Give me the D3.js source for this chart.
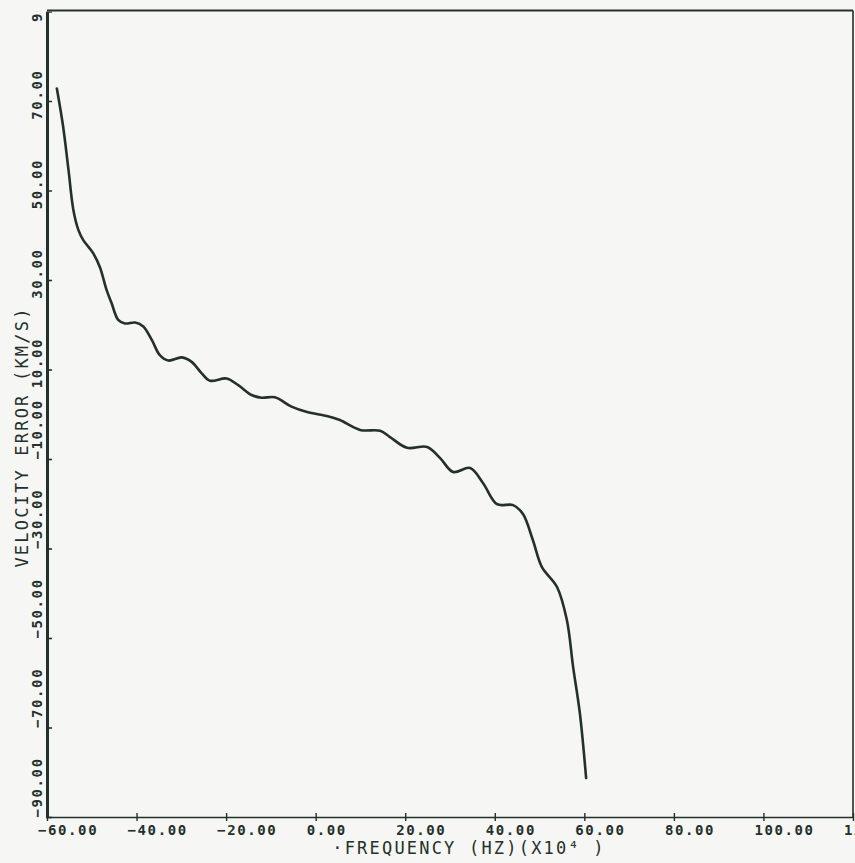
<!DOCTYPE html>
<html>
<head>
<meta charset="utf-8">
<script src="https://cdn.jsdelivr.net/npm/d3@7"></script>
<style>
  html, body { margin: 0; padding: 0; background: #f6f6f4; }
  svg { display: block; }
</style>
</head>
<body>
<svg id="chart" width="855" height="863"></svg>
<script>
// Velocity error versus Doppler frequency offset
const frequency = [
  -57.8, -56.4, -55.2, -54.1, -53.0, -51.9, -49.7, -48.2, -46.7, -45.6,
  -44.1, -42.6, -40.3, -38.5, -36.6, -34.8, -32.9, -29.9, -27.7, -25.5,
  -23.6, -19.9, -17.3, -14.3, -12.1, -9.1, -5.4, -1.9, 2.5, 5.4,
  9.9, 14.4, 16.6, 20.4, 24.9, 27.8, 30.7, 34.5, 37.4, 40.5,
  44.1, 46.3, 48.5, 50.5, 53.9, 56.1, 57.5, 59.0, 60.4
];
const velocityError = [
  72.8, 64.3, 54.6, 45.6, 41.2, 38.9, 36.0, 32.9, 27.8, 24.9,
  21.1, 20.3, 20.5, 19.6, 16.6, 13.2, 12.0, 12.7, 11.7, 9.2,
  7.5, 8.0, 6.5, 4.3, 3.7, 3.8, 1.7, 0.5, -0.4, -1.3,
  -3.5, -3.7, -5.1, -7.5, -7.3, -9.8, -12.9, -12.0, -15.4, -20.1,
  -20.3, -22.3, -28.1, -34.1, -38.6, -46.0, -56.5, -66.8, -81.3
];
const xTicks = [-60, -40, -20, 0, 20, 40, 60, 80, 100, 120];
const yTicks = [90, 70, 50, 30, 10, -10, -30, -50, -70, -90];
const xTitle = "·FREQUENCY (HZ)(X10⁴ )";
const yTitle = "VELOCITY ERROR (KM/S)";

const W = 855, H = 863;
const ink = "#24302a";
const monoFont = "'DejaVu Sans Mono', 'Liberation Mono', monospace";

const svg = d3.select("#chart");
svg.append("rect").attr("width", W).attr("height", H).attr("fill", "#f6f6f4");

const x = d3.scaleLinear().domain([-60, 120]).range([47, 853]);
const y = d3.scaleLinear().domain([-90, 90]).range([817, 11.5]);
const fmt = d3.format(".2f");

// Left-axis labels are clipped at the top of the frame
svg.append("defs").append("clipPath").attr("id", "below-frame")
  .append("rect").attr("x", -100).attr("y", y(90)).attr("width", W + 200).attr("height", H);

// Plot frame: top and right edges
svg.append("line")
  .attr("x1", x(-60)).attr("x2", x(120))
  .attr("y1", y(90) - 1).attr("y2", y(90) - 1)
  .attr("stroke", ink).attr("stroke-width", 2);
svg.append("line")
  .attr("x1", x(120)).attr("x2", x(120))
  .attr("y1", y(90) - 1).attr("y2", y(-90))
  .attr("stroke", ink).attr("stroke-width", 1.6);

// Bottom axis
const gx = svg.append("g")
  .attr("transform", `translate(0,${y(-90)})`)
  .call(d3.axisBottom(x).tickValues(xTicks).tickFormat(fmt).tickSize(4).tickSizeOuter(0));
gx.attr("font-family", monoFont).attr("font-size", 14).attr("font-weight", "bold");
gx.select(".domain").attr("stroke", ink).attr("stroke-width", 1.4);
gx.selectAll(".tick line").attr("stroke", ink).attr("stroke-width", 1.4).attr("y1", -4);
gx.selectAll(".tick text")
  .attr("fill", ink)
  .attr("text-anchor", "start")
  .attr("x", -9.5).attr("y", 18).attr("dy", "0")
  .style("letter-spacing", "1.6px");

// Left axis
const gy = svg.append("g")
  .attr("transform", `translate(${x(-60)},0)`)
  .attr("clip-path", "url(#below-frame)")
  .call(d3.axisLeft(y).tickValues(yTicks).tickFormat(fmt).tickSize(-5).tickSizeOuter(0));
gy.attr("font-family", monoFont).attr("font-size", 14).attr("font-weight", "bold");
gy.select(".domain").attr("stroke", ink).attr("stroke-width", 3);
gy.selectAll(".tick line").attr("stroke", ink).attr("stroke-width", 1.6).attr("x1", -1);
gy.selectAll(".tick text")
  .attr("fill", ink)
  .attr("transform", "rotate(-90)")
  .attr("dy", "0")
  .attr("y", -5)
  .attr("x", d => d < 0 ? 0 : (d === 90 ? -10 : 32))
  .attr("text-anchor", d => d < 0 ? "start" : (d === 90 ? "start" : "end"))
  .style("letter-spacing", "1.6px");

// Curve
const pts = frequency.map((f, i) => [f, velocityError[i]]);
svg.append("path")
  .datum(pts)
  .attr("fill", "none")
  .attr("stroke", ink)
  .attr("stroke-width", 2.6)
  .attr("stroke-linejoin", "round")
  .attr("stroke-linecap", "round")
  .attr("d", d3.line()
    .x(d => x(d[0]))
    .y(d => y(d[1]))
    .curve(d3.curveCatmullRom.alpha(0.5)));

// Axis titles
svg.append("text")
  .attr("x", 469).attr("y", 854)
  .attr("text-anchor", "middle")
  .attr("font-family", monoFont)
  .attr("font-size", 17)
  .attr("fill", ink)
  .style("letter-spacing", "2.2px")
  .text(xTitle);

svg.append("text")
  .attr("transform", "translate(28,437) rotate(-90)")
  .attr("text-anchor", "middle")
  .attr("font-family", monoFont)
  .attr("font-size", 17)
  .attr("fill", ink)
  .style("letter-spacing", "2.2px")
  .text(yTitle);
</script>
</body>
</html>
